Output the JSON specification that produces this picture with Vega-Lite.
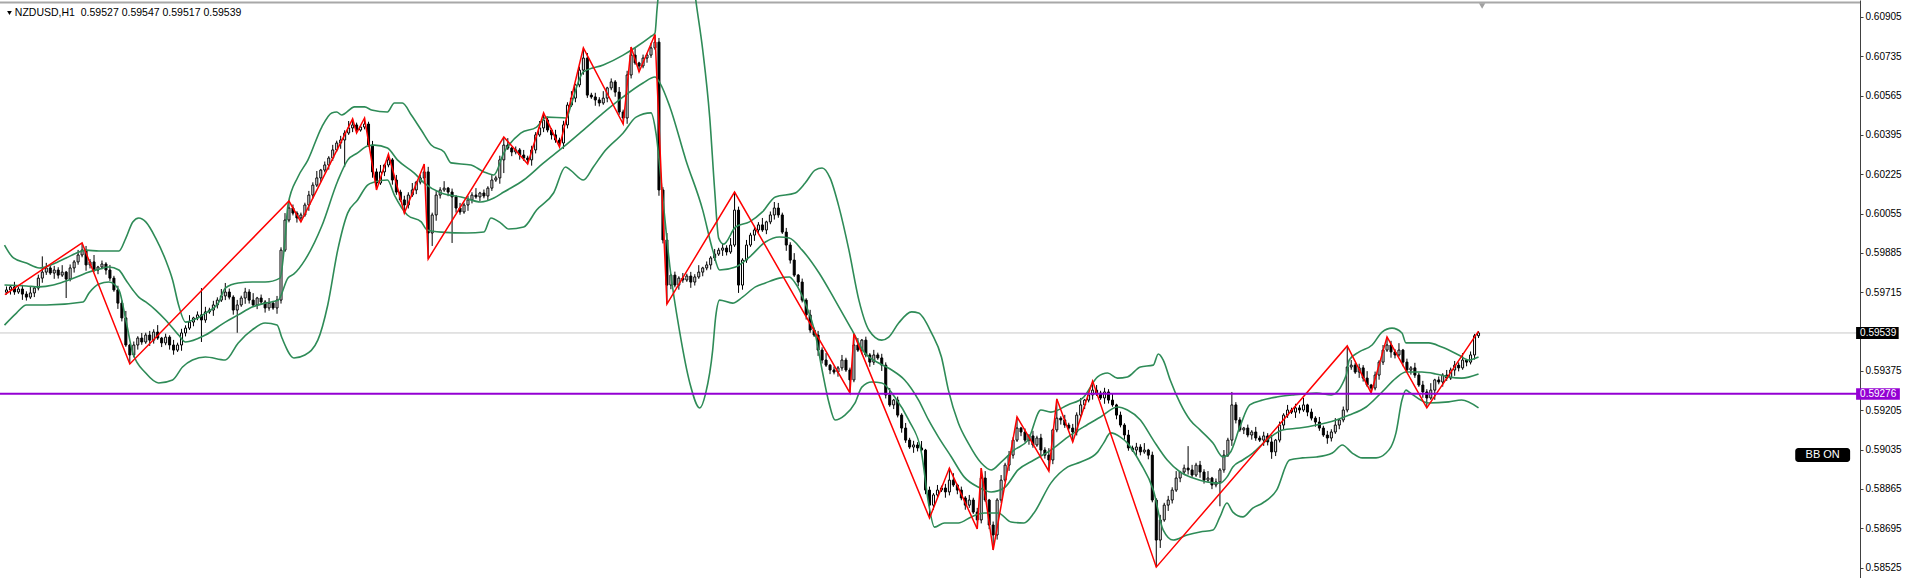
{
"$schema": "https://vega.github.io/schema/vega-lite/v6.json",
"width": 1860, "height": 578,
"autosize": {"type": "none"},
"padding": {"left": 0, "top": 0, "right": 50, "bottom": 0},
"background": "white",
"config": {"view": {"stroke": null}, "font": "Liberation Sans"},
"resolve": {"axis": {"y": "independent", "x": "independent"}},
"data": {"values": [{}]},
"datasets": {
"candles": [
{"i":0,"o":0.59715,"h":0.59740,"l":0.59705,"c":0.59725},
{"i":1,"o":0.59725,"h":0.59746,"l":0.59705,"c":0.59738},
{"i":2,"o":0.59738,"h":0.59760,"l":0.59704,"c":0.59716},
{"i":3,"o":0.59716,"h":0.59739,"l":0.59708,"c":0.59729},
{"i":4,"o":0.59729,"h":0.59747,"l":0.59682,"c":0.59707},
{"i":5,"o":0.59707,"h":0.59719,"l":0.59679,"c":0.59694},
{"i":6,"o":0.59694,"h":0.59742,"l":0.59686,"c":0.59712},
{"i":7,"o":0.59712,"h":0.59738,"l":0.59694,"c":0.59733},
{"i":8,"o":0.59733,"h":0.59791,"l":0.59723,"c":0.59776},
{"i":9,"o":0.59776,"h":0.59870,"l":0.59756,"c":0.59802},
{"i":10,"o":0.59802,"h":0.59842,"l":0.59790,"c":0.59820},
{"i":11,"o":0.59820,"h":0.59830,"l":0.59790,"c":0.59798},
{"i":12,"o":0.59798,"h":0.59829,"l":0.59773,"c":0.59811},
{"i":13,"o":0.59811,"h":0.59823,"l":0.59774,"c":0.59789},
{"i":14,"o":0.59789,"h":0.59832,"l":0.59781,"c":0.59802},
{"i":15,"o":0.59802,"h":0.59807,"l":0.59690,"c":0.59772},
{"i":16,"o":0.59772,"h":0.59835,"l":0.59762,"c":0.59820},
{"i":17,"o":0.59820,"h":0.59854,"l":0.59800,"c":0.59846},
{"i":18,"o":0.59846,"h":0.59898,"l":0.59834,"c":0.59876},
{"i":19,"o":0.59876,"h":0.59928,"l":0.59866,"c":0.59897},
{"i":20,"o":0.59897,"h":0.59915,"l":0.59808,"c":0.59833},
{"i":21,"o":0.59833,"h":0.59858,"l":0.59818,"c":0.59846},
{"i":22,"o":0.59846,"h":0.59876,"l":0.59803,"c":0.59811},
{"i":23,"o":0.59811,"h":0.59829,"l":0.59793,"c":0.59824},
{"i":24,"o":0.59824,"h":0.59852,"l":0.59814,"c":0.59837},
{"i":25,"o":0.59837,"h":0.59845,"l":0.59791,"c":0.59811},
{"i":26,"o":0.59811,"h":0.59833,"l":0.59764,"c":0.59776},
{"i":27,"o":0.59776,"h":0.59786,"l":0.59717,"c":0.59725},
{"i":28,"o":0.59725,"h":0.59743,"l":0.59643,"c":0.59668},
{"i":29,"o":0.59668,"h":0.59680,"l":0.59589,"c":0.59604},
{"i":30,"o":0.59604,"h":0.59634,"l":0.59479,"c":0.59487},
{"i":31,"o":0.59487,"h":0.59492,"l":0.59405,"c":0.59444},
{"i":32,"o":0.59444,"h":0.59502,"l":0.59434,"c":0.59487},
{"i":33,"o":0.59487,"h":0.59525,"l":0.59467,"c":0.59517},
{"i":34,"o":0.59517,"h":0.59539,"l":0.59488,"c":0.59500},
{"i":35,"o":0.59500,"h":0.59540,"l":0.59492,"c":0.59530},
{"i":36,"o":0.59530,"h":0.59548,"l":0.59483,"c":0.59508},
{"i":37,"o":0.59508,"h":0.59555,"l":0.59493,"c":0.59543},
{"i":38,"o":0.59543,"h":0.59573,"l":0.59509,"c":0.59517},
{"i":39,"o":0.59517,"h":0.59522,"l":0.59478,"c":0.59496},
{"i":40,"o":0.59496,"h":0.59536,"l":0.59486,"c":0.59521},
{"i":41,"o":0.59521,"h":0.59529,"l":0.59467,"c":0.59487},
{"i":42,"o":0.59487,"h":0.59509,"l":0.59445,"c":0.59465},
{"i":43,"o":0.59465,"h":0.59497,"l":0.59457,"c":0.59487},
{"i":44,"o":0.59487,"h":0.59557,"l":0.59462,"c":0.59539},
{"i":45,"o":0.59539,"h":0.59572,"l":0.59524,"c":0.59560},
{"i":46,"o":0.59560,"h":0.59616,"l":0.59552,"c":0.59586},
{"i":47,"o":0.59586,"h":0.59609,"l":0.59568,"c":0.59604},
{"i":48,"o":0.59604,"h":0.59632,"l":0.59594,"c":0.59617},
{"i":49,"o":0.59617,"h":0.59733,"l":0.59500,"c":0.59595},
{"i":50,"o":0.59595,"h":0.59652,"l":0.59583,"c":0.59630},
{"i":51,"o":0.59630,"h":0.59648,"l":0.59622,"c":0.59638},
{"i":52,"o":0.59638,"h":0.59678,"l":0.59613,"c":0.59660},
{"i":53,"o":0.59660,"h":0.59693,"l":0.59645,"c":0.59681},
{"i":54,"o":0.59681,"h":0.59729,"l":0.59673,"c":0.59699},
{"i":55,"o":0.59699,"h":0.59755,"l":0.59681,"c":0.59716},
{"i":56,"o":0.59716,"h":0.59731,"l":0.59684,"c":0.59694},
{"i":57,"o":0.59694,"h":0.59702,"l":0.59618,"c":0.59638},
{"i":58,"o":0.59638,"h":0.59682,"l":0.59540,"c":0.59660},
{"i":59,"o":0.59660,"h":0.59700,"l":0.59652,"c":0.59690},
{"i":60,"o":0.59690,"h":0.59734,"l":0.59665,"c":0.59716},
{"i":61,"o":0.59716,"h":0.59728,"l":0.59666,"c":0.59681},
{"i":62,"o":0.59681,"h":0.59711,"l":0.59652,"c":0.59660},
{"i":63,"o":0.59660,"h":0.59695,"l":0.59642,"c":0.59690},
{"i":64,"o":0.59690,"h":0.59705,"l":0.59663,"c":0.59673},
{"i":65,"o":0.59673,"h":0.59681,"l":0.59627,"c":0.59647},
{"i":66,"o":0.59647,"h":0.59690,"l":0.59635,"c":0.59668},
{"i":67,"o":0.59668,"h":0.59678,"l":0.59639,"c":0.59647},
{"i":68,"o":0.59647,"h":0.59699,"l":0.59622,"c":0.59681},
{"i":69,"o":0.59681,"h":0.59909,"l":0.59666,"c":0.59897},
{"i":70,"o":0.59897,"h":0.60057,"l":0.59889,"c":0.60027},
{"i":71,"o":0.60027,"h":0.60109,"l":0.60017,"c":0.60079},
{"i":72,"o":0.60079,"h":0.60094,"l":0.60047,"c":0.60057},
{"i":73,"o":0.60057,"h":0.60065,"l":0.60016,"c":0.60036},
{"i":74,"o":0.60036,"h":0.60059,"l":0.60019,"c":0.60049},
{"i":75,"o":0.60049,"h":0.60102,"l":0.60041,"c":0.60092},
{"i":76,"o":0.60092,"h":0.60153,"l":0.60067,"c":0.60135},
{"i":77,"o":0.60135,"h":0.60190,"l":0.60120,"c":0.60178},
{"i":78,"o":0.60178,"h":0.60239,"l":0.60170,"c":0.60209},
{"i":79,"o":0.60209,"h":0.60248,"l":0.60191,"c":0.60243},
{"i":80,"o":0.60243,"h":0.60280,"l":0.60233,"c":0.60265},
{"i":81,"o":0.60265,"h":0.60303,"l":0.60245,"c":0.60295},
{"i":82,"o":0.60295,"h":0.60352,"l":0.60283,"c":0.60330},
{"i":83,"o":0.60330,"h":0.60370,"l":0.60322,"c":0.60360},
{"i":84,"o":0.60360,"h":0.60391,"l":0.60335,"c":0.60373},
{"i":85,"o":0.60373,"h":0.60415,"l":0.60256,"c":0.60403},
{"i":86,"o":0.60403,"h":0.60455,"l":0.60395,"c":0.60425},
{"i":87,"o":0.60425,"h":0.60464,"l":0.60407,"c":0.60438},
{"i":88,"o":0.60438,"h":0.60448,"l":0.60403,"c":0.60416},
{"i":89,"o":0.60416,"h":0.60437,"l":0.60409,"c":0.60429},
{"i":90,"o":0.60429,"h":0.60468,"l":0.60419,"c":0.60442},
{"i":91,"o":0.60442,"h":0.60452,"l":0.60343,"c":0.60351},
{"i":92,"o":0.60351,"h":0.60369,"l":0.60210,"c":0.60235},
{"i":93,"o":0.60235,"h":0.60250,"l":0.60157,"c":0.60187},
{"i":94,"o":0.60187,"h":0.60265,"l":0.60179,"c":0.60235},
{"i":95,"o":0.60235,"h":0.60270,"l":0.60217,"c":0.60265},
{"i":96,"o":0.60265,"h":0.60312,"l":0.60255,"c":0.60287},
{"i":97,"o":0.60287,"h":0.60295,"l":0.60180,"c":0.60200},
{"i":98,"o":0.60200,"h":0.60222,"l":0.60136,"c":0.60148},
{"i":99,"o":0.60148,"h":0.60158,"l":0.60106,"c":0.60114},
{"i":100,"o":0.60114,"h":0.60132,"l":0.60057,"c":0.60092},
{"i":101,"o":0.60092,"h":0.60147,"l":0.60077,"c":0.60135},
{"i":102,"o":0.60135,"h":0.60187,"l":0.60127,"c":0.60157},
{"i":103,"o":0.60157,"h":0.60196,"l":0.60139,"c":0.60191},
{"i":104,"o":0.60191,"h":0.60224,"l":0.60181,"c":0.60209},
{"i":105,"o":0.60209,"h":0.60269,"l":0.60189,"c":0.60235},
{"i":106,"o":0.60235,"h":0.60257,"l":0.59859,"c":0.59971},
{"i":107,"o":0.59971,"h":0.60059,"l":0.59915,"c":0.60049},
{"i":108,"o":0.60049,"h":0.60153,"l":0.60024,"c":0.60135},
{"i":109,"o":0.60135,"h":0.60169,"l":0.60120,"c":0.60157},
{"i":110,"o":0.60157,"h":0.60195,"l":0.60149,"c":0.60165},
{"i":111,"o":0.60165,"h":0.60170,"l":0.60130,"c":0.60148},
{"i":112,"o":0.60148,"h":0.60163,"l":0.59928,"c":0.60127},
{"i":113,"o":0.60127,"h":0.60135,"l":0.60059,"c":0.60079},
{"i":114,"o":0.60079,"h":0.60101,"l":0.60050,"c":0.60062},
{"i":115,"o":0.60062,"h":0.60102,"l":0.60054,"c":0.60092},
{"i":116,"o":0.60092,"h":0.60132,"l":0.60067,"c":0.60114},
{"i":117,"o":0.60114,"h":0.60147,"l":0.60099,"c":0.60135},
{"i":118,"o":0.60135,"h":0.60165,"l":0.60119,"c":0.60127},
{"i":119,"o":0.60127,"h":0.60149,"l":0.60109,"c":0.60144},
{"i":120,"o":0.60144,"h":0.60159,"l":0.60121,"c":0.60131},
{"i":121,"o":0.60131,"h":0.60173,"l":0.60111,"c":0.60165},
{"i":122,"o":0.60165,"h":0.60222,"l":0.60153,"c":0.60200},
{"i":123,"o":0.60200,"h":0.60219,"l":0.60192,"c":0.60209},
{"i":124,"o":0.60209,"h":0.60305,"l":0.60184,"c":0.60287},
{"i":125,"o":0.60287,"h":0.60386,"l":0.60230,"c":0.60351},
{"i":126,"o":0.60351,"h":0.60381,"l":0.60330,"c":0.60338},
{"i":127,"o":0.60338,"h":0.60343,"l":0.60303,"c":0.60321},
{"i":128,"o":0.60321,"h":0.60345,"l":0.60311,"c":0.60330},
{"i":129,"o":0.60330,"h":0.60338,"l":0.60288,"c":0.60308},
{"i":130,"o":0.60308,"h":0.60330,"l":0.60283,"c":0.60295},
{"i":131,"o":0.60295,"h":0.60305,"l":0.60269,"c":0.60287},
{"i":132,"o":0.60287,"h":0.60348,"l":0.60262,"c":0.60330},
{"i":133,"o":0.60330,"h":0.60407,"l":0.60315,"c":0.60395},
{"i":134,"o":0.60395,"h":0.60455,"l":0.60387,"c":0.60425},
{"i":135,"o":0.60425,"h":0.60490,"l":0.60407,"c":0.60459},
{"i":136,"o":0.60459,"h":0.60474,"l":0.60406,"c":0.60416},
{"i":137,"o":0.60416,"h":0.60424,"l":0.60375,"c":0.60395},
{"i":138,"o":0.60395,"h":0.60417,"l":0.60361,"c":0.60373},
{"i":139,"o":0.60373,"h":0.60383,"l":0.60343,"c":0.60360},
{"i":140,"o":0.60360,"h":0.60456,"l":0.60335,"c":0.60438},
{"i":141,"o":0.60438,"h":0.60536,"l":0.60423,"c":0.60524},
{"i":142,"o":0.60524,"h":0.60584,"l":0.60516,"c":0.60554},
{"i":143,"o":0.60554,"h":0.60616,"l":0.60536,"c":0.60611},
{"i":144,"o":0.60611,"h":0.60690,"l":0.60601,"c":0.60675},
{"i":145,"o":0.60675,"h":0.60771,"l":0.60655,"c":0.60727},
{"i":146,"o":0.60727,"h":0.60749,"l":0.60555,"c":0.60567},
{"i":147,"o":0.60567,"h":0.60577,"l":0.60551,"c":0.60559},
{"i":148,"o":0.60559,"h":0.60577,"l":0.60521,"c":0.60546},
{"i":149,"o":0.60546,"h":0.60558,"l":0.60518,"c":0.60533},
{"i":150,"o":0.60533,"h":0.60584,"l":0.60525,"c":0.60554},
{"i":151,"o":0.60554,"h":0.60603,"l":0.60536,"c":0.60598},
{"i":152,"o":0.60598,"h":0.60639,"l":0.60588,"c":0.60624},
{"i":153,"o":0.60624,"h":0.60632,"l":0.60560,"c":0.60580},
{"i":154,"o":0.60580,"h":0.60602,"l":0.60482,"c":0.60494},
{"i":155,"o":0.60494,"h":0.60504,"l":0.60442,"c":0.60468},
{"i":156,"o":0.60468,"h":0.60672,"l":0.60443,"c":0.60654},
{"i":157,"o":0.60654,"h":0.60775,"l":0.60639,"c":0.60740},
{"i":158,"o":0.60740,"h":0.60770,"l":0.60698,"c":0.60706},
{"i":159,"o":0.60706,"h":0.60711,"l":0.60667,"c":0.60693},
{"i":160,"o":0.60693,"h":0.60742,"l":0.60683,"c":0.60727},
{"i":161,"o":0.60727,"h":0.60748,"l":0.60707,"c":0.60740},
{"i":162,"o":0.60740,"h":0.60793,"l":0.60728,"c":0.60771},
{"i":163,"o":0.60771,"h":0.60829,"l":0.60763,"c":0.60796},
{"i":164,"o":0.60796,"h":0.60814,"l":0.60132,"c":0.60157},
{"i":165,"o":0.60157,"h":0.60169,"l":0.59926,"c":0.59941},
{"i":166,"o":0.59941,"h":0.59971,"l":0.59664,"c":0.59746},
{"i":167,"o":0.59746,"h":0.59794,"l":0.59728,"c":0.59789},
{"i":168,"o":0.59789,"h":0.59804,"l":0.59736,"c":0.59746},
{"i":169,"o":0.59746,"h":0.59784,"l":0.59726,"c":0.59776},
{"i":170,"o":0.59776,"h":0.59798,"l":0.59756,"c":0.59768},
{"i":171,"o":0.59768,"h":0.59795,"l":0.59760,"c":0.59785},
{"i":172,"o":0.59785,"h":0.59803,"l":0.59734,"c":0.59759},
{"i":173,"o":0.59759,"h":0.59793,"l":0.59744,"c":0.59781},
{"i":174,"o":0.59781,"h":0.59832,"l":0.59773,"c":0.59802},
{"i":175,"o":0.59802,"h":0.59825,"l":0.59784,"c":0.59820},
{"i":176,"o":0.59820,"h":0.59848,"l":0.59810,"c":0.59833},
{"i":177,"o":0.59833,"h":0.59871,"l":0.59813,"c":0.59863},
{"i":178,"o":0.59863,"h":0.59902,"l":0.59851,"c":0.59880},
{"i":179,"o":0.59880,"h":0.59907,"l":0.59872,"c":0.59897},
{"i":180,"o":0.59897,"h":0.59924,"l":0.59872,"c":0.59906},
{"i":181,"o":0.59906,"h":0.59918,"l":0.59874,"c":0.59889},
{"i":182,"o":0.59889,"h":0.59949,"l":0.59881,"c":0.59919},
{"i":183,"o":0.59919,"h":0.60148,"l":0.59911,"c":0.60070},
{"i":184,"o":0.60070,"h":0.60085,"l":0.59712,"c":0.59746},
{"i":185,"o":0.59746,"h":0.59862,"l":0.59726,"c":0.59854},
{"i":186,"o":0.59854,"h":0.59941,"l":0.59842,"c":0.59919},
{"i":187,"o":0.59919,"h":0.59972,"l":0.59911,"c":0.59962},
{"i":188,"o":0.59962,"h":0.60002,"l":0.59937,"c":0.59984},
{"i":189,"o":0.59984,"h":0.60018,"l":0.59969,"c":0.60006},
{"i":190,"o":0.60006,"h":0.60036,"l":0.59976,"c":0.59984},
{"i":191,"o":0.59984,"h":0.60024,"l":0.59966,"c":0.60019},
{"i":192,"o":0.60019,"h":0.60064,"l":0.60009,"c":0.60049},
{"i":193,"o":0.60049,"h":0.60105,"l":0.60029,"c":0.60079},
{"i":194,"o":0.60079,"h":0.60101,"l":0.60037,"c":0.60049},
{"i":195,"o":0.60049,"h":0.60059,"l":0.59967,"c":0.59975},
{"i":196,"o":0.59975,"h":0.59993,"l":0.59894,"c":0.59919},
{"i":197,"o":0.59919,"h":0.59931,"l":0.59839,"c":0.59854},
{"i":198,"o":0.59854,"h":0.59884,"l":0.59781,"c":0.59789},
{"i":199,"o":0.59789,"h":0.59794,"l":0.59741,"c":0.59759},
{"i":200,"o":0.59759,"h":0.59774,"l":0.59671,"c":0.59681},
{"i":201,"o":0.59681,"h":0.59689,"l":0.59597,"c":0.59617},
{"i":202,"o":0.59617,"h":0.59639,"l":0.59540,"c":0.59552},
{"i":203,"o":0.59552,"h":0.59562,"l":0.59522,"c":0.59530},
{"i":204,"o":0.59530,"h":0.59548,"l":0.59440,"c":0.59465},
{"i":205,"o":0.59465,"h":0.59477,"l":0.59407,"c":0.59422},
{"i":206,"o":0.59422,"h":0.59452,"l":0.59392,"c":0.59400},
{"i":207,"o":0.59400,"h":0.59405,"l":0.59361,"c":0.59379},
{"i":208,"o":0.59379,"h":0.59394,"l":0.59360,"c":0.59370},
{"i":209,"o":0.59370,"h":0.59396,"l":0.59350,"c":0.59388},
{"i":210,"o":0.59388,"h":0.59444,"l":0.59376,"c":0.59422},
{"i":211,"o":0.59422,"h":0.59432,"l":0.59371,"c":0.59379},
{"i":212,"o":0.59379,"h":0.59389,"l":0.59280,"c":0.59336},
{"i":213,"o":0.59336,"h":0.59535,"l":0.59326,"c":0.59487},
{"i":214,"o":0.59487,"h":0.59517,"l":0.59457,"c":0.59465},
{"i":215,"o":0.59465,"h":0.59513,"l":0.59447,"c":0.59508},
{"i":216,"o":0.59508,"h":0.59523,"l":0.59434,"c":0.59444},
{"i":217,"o":0.59444,"h":0.59452,"l":0.59393,"c":0.59413},
{"i":218,"o":0.59413,"h":0.59466,"l":0.59401,"c":0.59444},
{"i":219,"o":0.59444,"h":0.59454,"l":0.59423,"c":0.59431},
{"i":220,"o":0.59431,"h":0.59449,"l":0.59375,"c":0.59400},
{"i":221,"o":0.59400,"h":0.59412,"l":0.59256,"c":0.59271},
{"i":222,"o":0.59271,"h":0.59301,"l":0.59220,"c":0.59228},
{"i":223,"o":0.59228,"h":0.59254,"l":0.59210,"c":0.59249},
{"i":224,"o":0.59249,"h":0.59264,"l":0.59174,"c":0.59184},
{"i":225,"o":0.59184,"h":0.59192,"l":0.59108,"c":0.59128},
{"i":226,"o":0.59128,"h":0.59150,"l":0.59064,"c":0.59076},
{"i":227,"o":0.59076,"h":0.59086,"l":0.59038,"c":0.59046},
{"i":228,"o":0.59046,"h":0.59073,"l":0.59021,"c":0.59055},
{"i":229,"o":0.59055,"h":0.59067,"l":0.59027,"c":0.59042},
{"i":230,"o":0.59042,"h":0.59072,"l":0.59025,"c":0.59033},
{"i":231,"o":0.59033,"h":0.59038,"l":0.58842,"c":0.58860},
{"i":232,"o":0.58860,"h":0.58875,"l":0.58739,"c":0.58795},
{"i":233,"o":0.58795,"h":0.58847,"l":0.58775,"c":0.58839},
{"i":234,"o":0.58839,"h":0.58882,"l":0.58827,"c":0.58860},
{"i":235,"o":0.58860,"h":0.58879,"l":0.58852,"c":0.58869},
{"i":236,"o":0.58869,"h":0.58887,"l":0.58827,"c":0.58852},
{"i":237,"o":0.58852,"h":0.58955,"l":0.58837,"c":0.58903},
{"i":238,"o":0.58903,"h":0.58933,"l":0.58874,"c":0.58882},
{"i":239,"o":0.58882,"h":0.58887,"l":0.58842,"c":0.58860},
{"i":240,"o":0.58860,"h":0.58875,"l":0.58816,"c":0.58826},
{"i":241,"o":0.58826,"h":0.58834,"l":0.58775,"c":0.58795},
{"i":242,"o":0.58795,"h":0.58839,"l":0.58783,"c":0.58817},
{"i":243,"o":0.58817,"h":0.58827,"l":0.58757,"c":0.58765},
{"i":244,"o":0.58765,"h":0.58783,"l":0.58692,"c":0.58731},
{"i":245,"o":0.58731,"h":0.58955,"l":0.58716,"c":0.58912},
{"i":246,"o":0.58912,"h":0.58942,"l":0.58809,"c":0.58817},
{"i":247,"o":0.58817,"h":0.58822,"l":0.58691,"c":0.58709},
{"i":248,"o":0.58709,"h":0.58724,"l":0.58601,"c":0.58666},
{"i":249,"o":0.58666,"h":0.58825,"l":0.58646,"c":0.58817},
{"i":250,"o":0.58817,"h":0.58925,"l":0.58805,"c":0.58903},
{"i":251,"o":0.58903,"h":0.58978,"l":0.58895,"c":0.58968},
{"i":252,"o":0.58968,"h":0.59029,"l":0.58943,"c":0.59011},
{"i":253,"o":0.59011,"h":0.59088,"l":0.58996,"c":0.59076},
{"i":254,"o":0.59076,"h":0.59176,"l":0.59068,"c":0.59128},
{"i":255,"o":0.59128,"h":0.59133,"l":0.59093,"c":0.59111},
{"i":256,"o":0.59111,"h":0.59126,"l":0.59066,"c":0.59076},
{"i":257,"o":0.59076,"h":0.59102,"l":0.59056,"c":0.59094},
{"i":258,"o":0.59094,"h":0.59116,"l":0.59043,"c":0.59055},
{"i":259,"o":0.59055,"h":0.59095,"l":0.59047,"c":0.59085},
{"i":260,"o":0.59085,"h":0.59103,"l":0.59008,"c":0.59033},
{"i":261,"o":0.59033,"h":0.59045,"l":0.58996,"c":0.59011},
{"i":262,"o":0.59011,"h":0.59041,"l":0.58942,"c":0.58990},
{"i":263,"o":0.58990,"h":0.59125,"l":0.58972,"c":0.59120},
{"i":264,"o":0.59120,"h":0.59254,"l":0.59110,"c":0.59171},
{"i":265,"o":0.59171,"h":0.59179,"l":0.59143,"c":0.59163},
{"i":266,"o":0.59163,"h":0.59185,"l":0.59129,"c":0.59141},
{"i":267,"o":0.59141,"h":0.59151,"l":0.59120,"c":0.59128},
{"i":268,"o":0.59128,"h":0.59146,"l":0.59068,"c":0.59111},
{"i":269,"o":0.59111,"h":0.59196,"l":0.59096,"c":0.59184},
{"i":270,"o":0.59184,"h":0.59258,"l":0.59176,"c":0.59228},
{"i":271,"o":0.59228,"h":0.59254,"l":0.59210,"c":0.59249},
{"i":272,"o":0.59249,"h":0.59286,"l":0.59239,"c":0.59271},
{"i":273,"o":0.59271,"h":0.59331,"l":0.59251,"c":0.59292},
{"i":274,"o":0.59292,"h":0.59314,"l":0.59267,"c":0.59279},
{"i":275,"o":0.59279,"h":0.59289,"l":0.59250,"c":0.59258},
{"i":276,"o":0.59258,"h":0.59302,"l":0.59233,"c":0.59284},
{"i":277,"o":0.59284,"h":0.59296,"l":0.59234,"c":0.59249},
{"i":278,"o":0.59249,"h":0.59279,"l":0.59220,"c":0.59228},
{"i":279,"o":0.59228,"h":0.59233,"l":0.59166,"c":0.59184},
{"i":280,"o":0.59184,"h":0.59199,"l":0.59131,"c":0.59141},
{"i":281,"o":0.59141,"h":0.59149,"l":0.59078,"c":0.59098},
{"i":282,"o":0.59098,"h":0.59120,"l":0.59030,"c":0.59042},
{"i":283,"o":0.59042,"h":0.59052,"l":0.59025,"c":0.59033},
{"i":284,"o":0.59033,"h":0.59064,"l":0.59008,"c":0.59046},
{"i":285,"o":0.59046,"h":0.59058,"l":0.59010,"c":0.59025},
{"i":286,"o":0.59025,"h":0.59063,"l":0.59017,"c":0.59033},
{"i":287,"o":0.59033,"h":0.59038,"l":0.58993,"c":0.59011},
{"i":288,"o":0.59011,"h":0.59026,"l":0.58807,"c":0.58817},
{"i":289,"o":0.58817,"h":0.58825,"l":0.58527,"c":0.58644},
{"i":290,"o":0.58644,"h":0.58753,"l":0.58610,"c":0.58731},
{"i":291,"o":0.58731,"h":0.58805,"l":0.58723,"c":0.58795},
{"i":292,"o":0.58795,"h":0.58835,"l":0.58770,"c":0.58817},
{"i":293,"o":0.58817,"h":0.58872,"l":0.58802,"c":0.58860},
{"i":294,"o":0.58860,"h":0.58942,"l":0.58852,"c":0.58912},
{"i":295,"o":0.58912,"h":0.58943,"l":0.58894,"c":0.58938},
{"i":296,"o":0.58938,"h":0.58970,"l":0.58928,"c":0.58955},
{"i":297,"o":0.58955,"h":0.59050,"l":0.58927,"c":0.58947},
{"i":298,"o":0.58947,"h":0.58969,"l":0.58913,"c":0.58925},
{"i":299,"o":0.58925,"h":0.58978,"l":0.58917,"c":0.58968},
{"i":300,"o":0.58968,"h":0.58986,"l":0.58913,"c":0.58938},
{"i":301,"o":0.58938,"h":0.58950,"l":0.58888,"c":0.58903},
{"i":302,"o":0.58903,"h":0.58942,"l":0.58895,"c":0.58912},
{"i":303,"o":0.58912,"h":0.58917,"l":0.58864,"c":0.58882},
{"i":304,"o":0.58882,"h":0.58910,"l":0.58872,"c":0.58895},
{"i":305,"o":0.58895,"h":0.58955,"l":0.58790,"c":0.58947},
{"i":306,"o":0.58947,"h":0.59033,"l":0.58935,"c":0.59011},
{"i":307,"o":0.59011,"h":0.59086,"l":0.59003,"c":0.59076},
{"i":308,"o":0.59076,"h":0.59284,"l":0.59051,"c":0.59228},
{"i":309,"o":0.59228,"h":0.59240,"l":0.59148,"c":0.59163},
{"i":310,"o":0.59163,"h":0.59175,"l":0.59112,"c":0.59120},
{"i":311,"o":0.59120,"h":0.59133,"l":0.59102,"c":0.59128},
{"i":312,"o":0.59128,"h":0.59143,"l":0.59088,"c":0.59098},
{"i":313,"o":0.59098,"h":0.59119,"l":0.59078,"c":0.59111},
{"i":314,"o":0.59111,"h":0.59133,"l":0.59073,"c":0.59085},
{"i":315,"o":0.59085,"h":0.59095,"l":0.59068,"c":0.59076},
{"i":316,"o":0.59076,"h":0.59112,"l":0.59051,"c":0.59094},
{"i":317,"o":0.59094,"h":0.59106,"l":0.59053,"c":0.59068},
{"i":318,"o":0.59068,"h":0.59098,"l":0.58995,"c":0.59025},
{"i":319,"o":0.59025,"h":0.59081,"l":0.59007,"c":0.59076},
{"i":320,"o":0.59076,"h":0.59156,"l":0.59066,"c":0.59141},
{"i":321,"o":0.59141,"h":0.59192,"l":0.59121,"c":0.59184},
{"i":322,"o":0.59184,"h":0.59228,"l":0.59172,"c":0.59206},
{"i":323,"o":0.59206,"h":0.59216,"l":0.59189,"c":0.59197},
{"i":324,"o":0.59197,"h":0.59233,"l":0.59172,"c":0.59215},
{"i":325,"o":0.59215,"h":0.59227,"l":0.59191,"c":0.59206},
{"i":326,"o":0.59206,"h":0.59258,"l":0.59198,"c":0.59228},
{"i":327,"o":0.59228,"h":0.59233,"l":0.59179,"c":0.59197},
{"i":328,"o":0.59197,"h":0.59212,"l":0.59161,"c":0.59171},
{"i":329,"o":0.59171,"h":0.59179,"l":0.59134,"c":0.59154},
{"i":330,"o":0.59154,"h":0.59176,"l":0.59116,"c":0.59128},
{"i":331,"o":0.59128,"h":0.59138,"l":0.59090,"c":0.59098},
{"i":332,"o":0.59098,"h":0.59116,"l":0.59060,"c":0.59085},
{"i":333,"o":0.59085,"h":0.59123,"l":0.59070,"c":0.59111},
{"i":334,"o":0.59111,"h":0.59171,"l":0.59103,"c":0.59141},
{"i":335,"o":0.59141,"h":0.59168,"l":0.59123,"c":0.59163},
{"i":336,"o":0.59163,"h":0.59221,"l":0.59153,"c":0.59206},
{"i":337,"o":0.59206,"h":0.59483,"l":0.59196,"c":0.59392},
{"i":338,"o":0.59392,"h":0.59422,"l":0.59380,"c":0.59400},
{"i":339,"o":0.59400,"h":0.59410,"l":0.59362,"c":0.59370},
{"i":340,"o":0.59370,"h":0.59406,"l":0.59345,"c":0.59388},
{"i":341,"o":0.59388,"h":0.59400,"l":0.59329,"c":0.59344},
{"i":342,"o":0.59344,"h":0.59374,"l":0.59306,"c":0.59314},
{"i":343,"o":0.59314,"h":0.59319,"l":0.59280,"c":0.59301},
{"i":344,"o":0.59301,"h":0.59372,"l":0.59291,"c":0.59357},
{"i":345,"o":0.59357,"h":0.59421,"l":0.59337,"c":0.59413},
{"i":346,"o":0.59413,"h":0.59487,"l":0.59401,"c":0.59465},
{"i":347,"o":0.59465,"h":0.59522,"l":0.59457,"c":0.59487},
{"i":348,"o":0.59487,"h":0.59505,"l":0.59432,"c":0.59457},
{"i":349,"o":0.59457,"h":0.59469,"l":0.59429,"c":0.59444},
{"i":350,"o":0.59444,"h":0.59495,"l":0.59436,"c":0.59465},
{"i":351,"o":0.59465,"h":0.59470,"l":0.59395,"c":0.59413},
{"i":352,"o":0.59413,"h":0.59428,"l":0.59369,"c":0.59379},
{"i":353,"o":0.59379,"h":0.59396,"l":0.59359,"c":0.59388},
{"i":354,"o":0.59388,"h":0.59410,"l":0.59345,"c":0.59357},
{"i":355,"o":0.59357,"h":0.59367,"l":0.59306,"c":0.59314},
{"i":356,"o":0.59314,"h":0.59332,"l":0.59259,"c":0.59284},
{"i":357,"o":0.59284,"h":0.59296,"l":0.59215,"c":0.59258},
{"i":358,"o":0.59258,"h":0.59322,"l":0.59250,"c":0.59292},
{"i":359,"o":0.59292,"h":0.59341,"l":0.59250,"c":0.59336},
{"i":360,"o":0.59336,"h":0.59351,"l":0.59317,"c":0.59327},
{"i":361,"o":0.59327,"h":0.59365,"l":0.59307,"c":0.59357},
{"i":362,"o":0.59357,"h":0.59379,"l":0.59332,"c":0.59344},
{"i":363,"o":0.59344,"h":0.59389,"l":0.59336,"c":0.59379},
{"i":364,"o":0.59379,"h":0.59418,"l":0.59354,"c":0.59400},
{"i":365,"o":0.59400,"h":0.59412,"l":0.59373,"c":0.59388},
{"i":366,"o":0.59388,"h":0.59452,"l":0.59380,"c":0.59422},
{"i":367,"o":0.59422,"h":0.59427,"l":0.59395,"c":0.59413},
{"i":368,"o":0.59413,"h":0.59459,"l":0.59403,"c":0.59444},
{"i":369,"o":0.59444,"h":0.59535,"l":0.59424,"c":0.59527},
{"i":370,"o":0.59527,"h":0.59547,"l":0.59517,"c":0.59539}
],
"bands": [
{"b":"u","i":-0.5,"v":0.59919},{"b":"u","i":1.75,"v":0.59863},{"b":"u","i":5,"v":0.59841},{"b":"u","i":8.25,"v":0.59820},{"b":"u","i":11.75,"v":0.59837},{"b":"u","i":15,"v":0.59863},{"b":"u","i":18.25,"v":0.59889},{"b":"u","i":20,"v":0.59897},{"b":"u","i":23.25,"v":0.59893},{"b":"u","i":25.75,"v":0.59893},{"b":"u","i":28.25,"v":0.59893},{"b":"u","i":30,"v":0.59949},{"b":"u","i":31.75,"v":0.60019},{"b":"u","i":33.25,"v":0.60036},{"b":"u","i":35,"v":0.60019},{"b":"u","i":37.5,"v":0.59949},{"b":"u","i":40,"v":0.59854},{"b":"u","i":41.75,"v":0.59768},{"b":"u","i":43.25,"v":0.59660},{"b":"u","i":45,"v":0.59586},{"b":"u","i":47.5,"v":0.59599},{"b":"u","i":50,"v":0.59625},{"b":"u","i":53.25,"v":0.59668},{"b":"u","i":55,"v":0.59733},{"b":"u","i":58.25,"v":0.59755},{"b":"u","i":61.75,"v":0.59759},{"b":"u","i":65,"v":0.59759},{"b":"u","i":68.75,"v":0.59776},{"b":"u","i":70,"v":0.59941},{"b":"u","i":70.75,"v":0.60092},{"b":"u","i":73.25,"v":0.60213},{"b":"u","i":75.75,"v":0.60286},{"b":"u","i":79.25,"v":0.60429},{"b":"u","i":81.75,"v":0.60490},{"b":"u","i":83,"v":0.60494},{"b":"u","i":84.25,"v":0.60481},{"b":"u","i":87.5,"v":0.60516},{"b":"u","i":90,"v":0.60516},{"b":"u","i":91.75,"v":0.60503},{"b":"u","i":95.75,"v":0.60494},{"b":"u","i":97.5,"v":0.60533},{"b":"u","i":99.5,"v":0.60533},{"b":"u","i":101.75,"v":0.60481},{"b":"u","i":104.25,"v":0.60416},{"b":"u","i":106.75,"v":0.60351},{"b":"u","i":110,"v":0.60321},{"b":"u","i":111.75,"v":0.60274},{"b":"u","i":116.75,"v":0.60265},{"b":"u","i":120,"v":0.60235},{"b":"u","i":122.5,"v":0.60222},{"b":"u","i":125,"v":0.60317},{"b":"u","i":129.25,"v":0.60403},{"b":"u","i":133.25,"v":0.60429},{"b":"u","i":135.75,"v":0.60472},{"b":"u","i":140.75,"v":0.60468},{"b":"u","i":141.75,"v":0.60516},{"b":"u","i":145,"v":0.60667},{"b":"u","i":150,"v":0.60697},{"b":"u","i":155,"v":0.60740},{"b":"u","i":158.25,"v":0.60775},{"b":"u","i":161.75,"v":0.60818},{"b":"u","i":163,"v":0.60835},{"b":"u","i":163.5,"v":0.60935},{"b":"u","i":164.5,"v":0.61108},{"b":"u","i":166,"v":0.61237},{"b":"u","i":168,"v":0.61302},{"b":"u","i":170,"v":0.61281},{"b":"u","i":172,"v":0.61151},{"b":"u","i":173.25,"v":0.60978},{"b":"u","i":175,"v":0.60762},{"b":"u","i":176.75,"v":0.60472},{"b":"u","i":178,"v":0.60157},{"b":"u","i":179,"v":0.59949},{"b":"u","i":180.25,"v":0.59923},{"b":"u","i":183.25,"v":0.59997},{"b":"u","i":186.75,"v":0.60019},{"b":"u","i":190,"v":0.60062},{"b":"u","i":193.25,"v":0.60127},{"b":"u","i":198.25,"v":0.60144},{"b":"u","i":200.75,"v":0.60187},{"b":"u","i":203.25,"v":0.60243},{"b":"u","i":205,"v":0.60252},{"b":"u","i":207,"v":0.60209},{"b":"u","i":209.25,"v":0.60083},{"b":"u","i":211.75,"v":0.59897},{"b":"u","i":214.25,"v":0.59681},{"b":"u","i":216.75,"v":0.59552},{"b":"u","i":220,"v":0.59508},{"b":"u","i":221.75,"v":0.59521},{"b":"u","i":224.25,"v":0.59582},{"b":"u","i":227.5,"v":0.59630},{"b":"u","i":229.25,"v":0.59625},{"b":"u","i":232.5,"v":0.59539},{"b":"u","i":235,"v":0.59435},{"b":"u","i":236.75,"v":0.59292},{"b":"u","i":239.25,"v":0.59150},{"b":"u","i":241.75,"v":0.59063},{"b":"u","i":245,"v":0.58977},{"b":"u","i":247.5,"v":0.58947},{"b":"u","i":250,"v":0.58981},{"b":"u","i":253.25,"v":0.59033},{"b":"u","i":256.75,"v":0.59076},{"b":"u","i":260,"v":0.59206},{"b":"u","i":262.5,"v":0.59197},{"b":"u","i":266.75,"v":0.59228},{"b":"u","i":270.75,"v":0.59262},{"b":"u","i":274.25,"v":0.59349},{"b":"u","i":276.75,"v":0.59366},{"b":"u","i":279.25,"v":0.59344},{"b":"u","i":281.75,"v":0.59349},{"b":"u","i":285,"v":0.59392},{"b":"u","i":288.25,"v":0.59400},{"b":"u","i":289.5,"v":0.59448},{"b":"u","i":290.75,"v":0.59422},{"b":"u","i":292.5,"v":0.59336},{"b":"u","i":295,"v":0.59236},{"b":"u","i":297.5,"v":0.59163},{"b":"u","i":300,"v":0.59120},{"b":"u","i":303.25,"v":0.59063},{"b":"u","i":305.75,"v":0.59003},{"b":"u","i":307.5,"v":0.59020},{"b":"u","i":310,"v":0.59133},{"b":"u","i":312.5,"v":0.59228},{"b":"u","i":315.75,"v":0.59249},{"b":"u","i":319.25,"v":0.59262},{"b":"u","i":323.25,"v":0.59271},{"b":"u","i":329.25,"v":0.59279},{"b":"u","i":333,"v":0.59271},{"b":"u","i":336.75,"v":0.59357},{"b":"u","i":337.5,"v":0.59422},{"b":"u","i":340,"v":0.59457},{"b":"u","i":343.25,"v":0.59487},{"b":"u","i":345.75,"v":0.59543},{"b":"u","i":348.25,"v":0.59560},{"b":"u","i":350.75,"v":0.59539},{"b":"u","i":351.75,"v":0.59496},{"b":"u","i":357.5,"v":0.59496},{"b":"u","i":360.75,"v":0.59478},{"b":"u","i":365,"v":0.59444},{"b":"u","i":367.5,"v":0.59422},{"b":"u","i":370,"v":0.59435},
{"b":"m","i":-0.5,"v":0.59746},{"b":"m","i":5,"v":0.59742},{"b":"m","i":8.25,"v":0.59738},{"b":"m","i":11.75,"v":0.59746},{"b":"m","i":15,"v":0.59764},{"b":"m","i":18.25,"v":0.59785},{"b":"m","i":20,"v":0.59798},{"b":"m","i":23.25,"v":0.59815},{"b":"m","i":25.75,"v":0.59824},{"b":"m","i":28.25,"v":0.59811},{"b":"m","i":30,"v":0.59768},{"b":"m","i":31.75,"v":0.59725},{"b":"m","i":33.25,"v":0.59694},{"b":"m","i":35,"v":0.59673},{"b":"m","i":37.5,"v":0.59638},{"b":"m","i":40,"v":0.59595},{"b":"m","i":43.25,"v":0.59530},{"b":"m","i":45,"v":0.59500},{"b":"m","i":50,"v":0.59530},{"b":"m","i":55,"v":0.59586},{"b":"m","i":58.25,"v":0.59617},{"b":"m","i":61.75,"v":0.59651},{"b":"m","i":65,"v":0.59668},{"b":"m","i":68.25,"v":0.59680},{"b":"m","i":70.75,"v":0.59777},{"b":"m","i":72.25,"v":0.59794},{"b":"m","i":75,"v":0.59854},{"b":"m","i":79.25,"v":0.60001},{"b":"m","i":83.25,"v":0.60196},{"b":"m","i":85.75,"v":0.60286},{"b":"m","i":88.25,"v":0.60317},{"b":"m","i":90.75,"v":0.60347},{"b":"m","i":92.5,"v":0.60351},{"b":"m","i":95.75,"v":0.60338},{"b":"m","i":98.25,"v":0.60287},{"b":"m","i":102.5,"v":0.60230},{"b":"m","i":105,"v":0.60187},{"b":"m","i":109.25,"v":0.60144},{"b":"m","i":114.25,"v":0.60127},{"b":"m","i":119.25,"v":0.60105},{"b":"m","i":122.5,"v":0.60122},{"b":"m","i":125,"v":0.60148},{"b":"m","i":130,"v":0.60200},{"b":"m","i":135,"v":0.60274},{"b":"m","i":140,"v":0.60343},{"b":"m","i":145,"v":0.60416},{"b":"m","i":150,"v":0.60490},{"b":"m","i":155,"v":0.60559},{"b":"m","i":160,"v":0.60619},{"b":"m","i":163,"v":0.60645},{"b":"m","i":164.25,"v":0.60619},{"b":"m","i":166.75,"v":0.60516},{"b":"m","i":170.75,"v":0.60287},{"b":"m","i":175,"v":0.60070},{"b":"m","i":177.5,"v":0.59897},{"b":"m","i":179.25,"v":0.59811},{"b":"m","i":183.25,"v":0.59824},{"b":"m","i":186.75,"v":0.59867},{"b":"m","i":190.75,"v":0.59932},{"b":"m","i":194.25,"v":0.59954},{"b":"m","i":196.75,"v":0.59949},{"b":"m","i":200,"v":0.59897},{"b":"m","i":204.25,"v":0.59798},{"b":"m","i":208.25,"v":0.59681},{"b":"m","i":212.5,"v":0.59552},{"b":"m","i":215.75,"v":0.59452},{"b":"m","i":219.25,"v":0.59409},{"b":"m","i":222.5,"v":0.59379},{"b":"m","i":225.75,"v":0.59336},{"b":"m","i":229.25,"v":0.59249},{"b":"m","i":231.75,"v":0.59163},{"b":"m","i":234.25,"v":0.59089},{"b":"m","i":237.5,"v":0.59003},{"b":"m","i":240.75,"v":0.58916},{"b":"m","i":244.25,"v":0.58873},{"b":"m","i":247.5,"v":0.58852},{"b":"m","i":250.75,"v":0.58869},{"b":"m","i":254.25,"v":0.58947},{"b":"m","i":258.25,"v":0.58990},{"b":"m","i":262.5,"v":0.59033},{"b":"m","i":266.75,"v":0.59089},{"b":"m","i":270.75,"v":0.59133},{"b":"m","i":275,"v":0.59176},{"b":"m","i":279.25,"v":0.59219},{"b":"m","i":281.75,"v":0.59206},{"b":"m","i":285,"v":0.59163},{"b":"m","i":288.25,"v":0.59076},{"b":"m","i":291.75,"v":0.58990},{"b":"m","i":295,"v":0.58938},{"b":"m","i":298.25,"v":0.58912},{"b":"m","i":301.75,"v":0.58895},{"b":"m","i":305,"v":0.58890},{"b":"m","i":306.75,"v":0.58916},{"b":"m","i":308.25,"v":0.58960},{"b":"m","i":310.75,"v":0.58990},{"b":"m","i":313.25,"v":0.59020},{"b":"m","i":316.75,"v":0.59076},{"b":"m","i":320.75,"v":0.59120},{"b":"m","i":325,"v":0.59128},{"b":"m","i":329.25,"v":0.59141},{"b":"m","i":334.25,"v":0.59163},{"b":"m","i":337.5,"v":0.59184},{"b":"m","i":341.75,"v":0.59219},{"b":"m","i":345.75,"v":0.59284},{"b":"m","i":349.25,"v":0.59344},{"b":"m","i":351.75,"v":0.59370},{"b":"m","i":355.75,"v":0.59370},{"b":"m","i":359.25,"v":0.59362},{"b":"m","i":362.5,"v":0.59349},{"b":"m","i":365.75,"v":0.59344},{"b":"m","i":370,"v":0.59362},
{"b":"l","i":-0.5,"v":0.59573},{"b":"l","i":2.5,"v":0.59625},{"b":"l","i":5,"v":0.59660},{"b":"l","i":10,"v":0.59660},{"b":"l","i":19.25,"v":0.59673},{"b":"l","i":20.75,"v":0.59712},{"b":"l","i":23.25,"v":0.59751},{"b":"l","i":25.75,"v":0.59759},{"b":"l","i":28.25,"v":0.59725},{"b":"l","i":30,"v":0.59595},{"b":"l","i":31.75,"v":0.59452},{"b":"l","i":35,"v":0.59366},{"b":"l","i":38.25,"v":0.59323},{"b":"l","i":41.75,"v":0.59336},{"b":"l","i":44.25,"v":0.59392},{"b":"l","i":46.75,"v":0.59422},{"b":"l","i":50,"v":0.59435},{"b":"l","i":55,"v":0.59422},{"b":"l","i":58.25,"v":0.59496},{"b":"l","i":61.75,"v":0.59552},{"b":"l","i":65,"v":0.59582},{"b":"l","i":68,"v":0.59573},{"b":"l","i":69.25,"v":0.59517},{"b":"l","i":72.25,"v":0.59431},{"b":"l","i":75,"v":0.59444},{"b":"l","i":78.25,"v":0.59508},{"b":"l","i":80.75,"v":0.59660},{"b":"l","i":83.25,"v":0.59897},{"b":"l","i":85.75,"v":0.60057},{"b":"l","i":88.25,"v":0.60114},{"b":"l","i":90.75,"v":0.60178},{"b":"l","i":92.5,"v":0.60191},{"b":"l","i":95.75,"v":0.60200},{"b":"l","i":97.5,"v":0.60135},{"b":"l","i":100.75,"v":0.60049},{"b":"l","i":104.25,"v":0.60019},{"b":"l","i":105.75,"v":0.59984},{"b":"l","i":109.25,"v":0.59975},{"b":"l","i":115.75,"v":0.59971},{"b":"l","i":120,"v":0.59975},{"b":"l","i":121.75,"v":0.60036},{"b":"l","i":124.25,"v":0.60014},{"b":"l","i":126.25,"v":0.59988},{"b":"l","i":130,"v":0.59997},{"b":"l","i":133.25,"v":0.60070},{"b":"l","i":137.5,"v":0.60144},{"b":"l","i":140.5,"v":0.60256},{"b":"l","i":141.75,"v":0.60243},{"b":"l","i":145,"v":0.60200},{"b":"l","i":147.5,"v":0.60256},{"b":"l","i":150,"v":0.60317},{"b":"l","i":155,"v":0.60403},{"b":"l","i":158.25,"v":0.60472},{"b":"l","i":162,"v":0.60490},{"b":"l","i":163.25,"v":0.60403},{"b":"l","i":165,"v":0.60114},{"b":"l","i":166.75,"v":0.59824},{"b":"l","i":169.25,"v":0.59539},{"b":"l","i":171.75,"v":0.59323},{"b":"l","i":174.25,"v":0.59215},{"b":"l","i":175.75,"v":0.59279},{"b":"l","i":177.5,"v":0.59465},{"b":"l","i":178.25,"v":0.59608},{"b":"l","i":179.25,"v":0.59681},{"b":"l","i":182.5,"v":0.59668},{"b":"l","i":185,"v":0.59694},{"b":"l","i":188.25,"v":0.59738},{"b":"l","i":190.75,"v":0.59755},{"b":"l","i":194.25,"v":0.59776},{"b":"l","i":196.75,"v":0.59781},{"b":"l","i":198.25,"v":0.59755},{"b":"l","i":200.75,"v":0.59668},{"b":"l","i":203.25,"v":0.59539},{"b":"l","i":205,"v":0.59379},{"b":"l","i":206.75,"v":0.59236},{"b":"l","i":208.25,"v":0.59163},{"b":"l","i":210.75,"v":0.59184},{"b":"l","i":213.25,"v":0.59236},{"b":"l","i":215,"v":0.59305},{"b":"l","i":217.5,"v":0.59327},{"b":"l","i":220,"v":0.59323},{"b":"l","i":223.25,"v":0.59262},{"b":"l","i":226.75,"v":0.59163},{"b":"l","i":230,"v":0.59020},{"b":"l","i":231.75,"v":0.58804},{"b":"l","i":233.25,"v":0.58700},{"b":"l","i":235.75,"v":0.58718},{"b":"l","i":239.25,"v":0.58718},{"b":"l","i":242.5,"v":0.58744},{"b":"l","i":245.75,"v":0.58761},{"b":"l","i":249.25,"v":0.58761},{"b":"l","i":252.5,"v":0.58722},{"b":"l","i":255.75,"v":0.58718},{"b":"l","i":258.25,"v":0.58761},{"b":"l","i":262.5,"v":0.58890},{"b":"l","i":266.75,"v":0.58960},{"b":"l","i":270,"v":0.58981},{"b":"l","i":274.25,"v":0.59024},{"b":"l","i":275.75,"v":0.59063},{"b":"l","i":277.5,"v":0.59107},{"b":"l","i":280,"v":0.59089},{"b":"l","i":281.75,"v":0.59063},{"b":"l","i":285,"v":0.58977},{"b":"l","i":288.25,"v":0.58860},{"b":"l","i":290.75,"v":0.58687},{"b":"l","i":293.25,"v":0.58644},{"b":"l","i":296.75,"v":0.58666},{"b":"l","i":300,"v":0.58679},{"b":"l","i":303.25,"v":0.58687},{"b":"l","i":305,"v":0.58744},{"b":"l","i":306.75,"v":0.58804},{"b":"l","i":308.25,"v":0.58765},{"b":"l","i":310.75,"v":0.58744},{"b":"l","i":313.25,"v":0.58782},{"b":"l","i":315.75,"v":0.58804},{"b":"l","i":319.25,"v":0.58860},{"b":"l","i":322.5,"v":0.58990},{"b":"l","i":325.75,"v":0.58999},{"b":"l","i":329.25,"v":0.59003},{"b":"l","i":333.25,"v":0.59020},{"b":"l","i":335.75,"v":0.59055},{"b":"l","i":338.25,"v":0.59020},{"b":"l","i":340.75,"v":0.58999},{"b":"l","i":344.25,"v":0.58999},{"b":"l","i":346.75,"v":0.59020},{"b":"l","i":349.25,"v":0.59107},{"b":"l","i":350.75,"v":0.59249},{"b":"l","i":351.75,"v":0.59292},{"b":"l","i":352.5,"v":0.59284},{"b":"l","i":357.5,"v":0.59236},{"b":"l","i":362.5,"v":0.59241},{"b":"l","i":365.75,"v":0.59249},{"b":"l","i":370,"v":0.59215}
],
"zz": [
{"i":-0.4,"v":0.59705},{"i":19,"v":0.59928},{"i":31,"v":0.59405},{"i":71,"v":0.60109},{"i":74,"v":0.60019},{"i":87,"v":0.60464},{"i":88,"v":0.60403},{"i":90,"v":0.60468},{"i":93,"v":0.60157},{"i":96,"v":0.60312},{"i":100,"v":0.60057},{"i":105,"v":0.60269},{"i":106,"v":0.59859},{"i":125,"v":0.60386},{"i":131,"v":0.60269},{"i":135,"v":0.60490},{"i":139,"v":0.60343},{"i":145,"v":0.60771},{"i":155,"v":0.60442},{"i":157,"v":0.60775},{"i":159,"v":0.60667},{"i":163,"v":0.60829},{"i":166,"v":0.59664},{"i":183,"v":0.60148},{"i":212,"v":0.59280},{"i":213,"v":0.59535},{"i":232,"v":0.58739},{"i":237,"v":0.58955},{"i":244,"v":0.58692},{"i":245,"v":0.58955},{"i":248,"v":0.58601},{"i":254,"v":0.59176},{"i":262,"v":0.58942},{"i":264,"v":0.59254},{"i":268,"v":0.59068},{"i":273,"v":0.59331},{"i":289,"v":0.58527},{"i":337,"v":0.59483},{"i":343,"v":0.59280},{"i":347,"v":0.59522},{"i":357,"v":0.59215},{"i":370,"v":0.59547}
]
},
"layer": [
{"mark": {"type": "rule", "color": "#c8c8c8", "strokeWidth": 1},
 "encoding": {"y": {"datum": 0.59539, "type": "quantitative", "scale": {"domain": [0.5848, 0.60978], "nice": false, "zero": false},
   "axis": {"orient": "right", "values": [0.60905,0.60735,0.60565,0.60395,0.60225,0.60055,0.59885,0.59715,0.59375,0.59205,0.59035,0.58865,0.58695,0.58525], "format": ".5f", "labelFont": "Liberation Sans", "labelFontSize": 10, "labelColor": "#000000", "tickColor": "#404040", "tickSize": 3, "domainColor": "#404040", "domainWidth": 1, "labelPadding": 2, "grid": false, "title": null, "labelOverlap": false, "labelFlush": false, "labelBound": false}}}},
{"mark": {"type": "rule", "color": "#a8a8a8", "strokeWidth": 2},
 "encoding": {"y": {"datum": 0.60967, "type": "quantitative", "scale": {"domain": [0.5848, 0.60978], "nice": false, "zero": false}, "axis": null}}},
{"data": {"name": "candles"},
 "mark": {"type": "rule", "color": "#000000", "strokeWidth": 1},
 "encoding": {"x": {"field": "i", "type": "quantitative", "scale": {"domain": [-0.375, 464.625], "nice": false, "zero": false}, "axis": null},
   "y": {"field": "l", "type": "quantitative", "scale": {"domain": [0.5848, 0.60978], "nice": false, "zero": false}, "axis": null},
   "y2": {"field": "h"}}},
{"data": {"name": "candles"},
 "mark": {"type": "bar", "width": 2, "orient": "vertical", "stroke": "#000000", "strokeWidth": 1},
 "encoding": {"x": {"field": "i", "type": "quantitative", "scale": {"domain": [-0.375, 464.625], "nice": false, "zero": false}, "axis": null},
   "y": {"field": "o", "type": "quantitative", "scale": {"domain": [0.5848, 0.60978], "nice": false, "zero": false}, "axis": null},
   "y2": {"field": "c"},
   "fill": {"condition": {"test": "datum.c >= datum.o", "value": "#ffffff"}, "value": "#000000"}}},
{"data": {"name": "bands"},
 "mark": {"type": "line", "color": "#2e8b57", "strokeWidth": 1.6, "interpolate": "monotone", "clip": true},
 "encoding": {"x": {"field": "i", "type": "quantitative", "scale": {"domain": [-0.375, 464.625], "nice": false, "zero": false}, "axis": null},
   "y": {"field": "v", "type": "quantitative", "scale": {"domain": [0.5848, 0.60978], "nice": false, "zero": false}, "axis": null},
   "detail": {"field": "b", "type": "nominal"}}},
{"data": {"name": "zz"},
 "mark": {"type": "line", "color": "#ff0000", "strokeWidth": 1.5, "clip": true},
 "encoding": {"x": {"field": "i", "type": "quantitative", "scale": {"domain": [-0.375, 464.625], "nice": false, "zero": false}, "axis": null},
   "y": {"field": "v", "type": "quantitative", "scale": {"domain": [0.5848, 0.60978], "nice": false, "zero": false}, "axis": null}}},
{"mark": {"type": "rule", "color": "#9400d3", "strokeWidth": 2},
 "encoding": {"y": {"datum": 0.59276, "type": "quantitative", "scale": {"domain": [0.5848, 0.60978], "nice": false, "zero": false}, "axis": null}}},
{"mark": {"type": "rect", "color": "#000000", "clip": false},
 "encoding": {"x": {"datum": 464.9, "type": "quantitative", "scale": {"domain": [-0.375, 464.625], "nice": false, "zero": false}, "axis": null}, "x2": {"datum": 475.6},
   "y": {"datum": 0.59565, "type": "quantitative", "scale": {"domain": [0.5848, 0.60978], "nice": false, "zero": false}, "axis": null}, "y2": {"datum": 0.59513}}},
{"mark": {"type": "text", "color": "#ffffff", "align": "left", "baseline": "middle", "fontSize": 10, "font": "Liberation Sans", "clip": false},
 "encoding": {"x": {"datum": 465.9, "type": "quantitative", "scale": {"domain": [-0.375, 464.625], "nice": false, "zero": false}, "axis": null},
   "y": {"datum": 0.59539, "type": "quantitative", "scale": {"domain": [0.5848, 0.60978], "nice": false, "zero": false}, "axis": null},
   "text": {"value": "0.59539"}}},
{"mark": {"type": "rect", "color": "#9400d3", "clip": false},
 "encoding": {"x": {"datum": 464.9, "type": "quantitative", "scale": {"domain": [-0.375, 464.625], "nice": false, "zero": false}, "axis": null}, "x2": {"datum": 475.9},
   "y": {"datum": 0.59300, "type": "quantitative", "scale": {"domain": [0.5848, 0.60978], "nice": false, "zero": false}, "axis": null}, "y2": {"datum": 0.59250}}},
{"mark": {"type": "text", "color": "#ffffff", "align": "left", "baseline": "middle", "fontSize": 10, "font": "Liberation Sans", "clip": false},
 "encoding": {"x": {"datum": 465.9, "type": "quantitative", "scale": {"domain": [-0.375, 464.625], "nice": false, "zero": false}, "axis": null},
   "y": {"datum": 0.59276, "type": "quantitative", "scale": {"domain": [0.5848, 0.60978], "nice": false, "zero": false}, "axis": null},
   "text": {"value": "0.59276"}}},
{"mark": {"type": "rect", "color": "#000000", "cornerRadius": 3},
 "encoding": {"x": {"datum": 449.6, "type": "quantitative", "scale": {"domain": [-0.375, 464.625], "nice": false, "zero": false}, "axis": null}, "x2": {"datum": 463.4},
   "y": {"datum": 0.59042, "type": "quantitative", "scale": {"domain": [0.5848, 0.60978], "nice": false, "zero": false}, "axis": null}, "y2": {"datum": 0.58981}}},
{"mark": {"type": "text", "color": "#ffffff", "align": "center", "baseline": "middle", "fontSize": 11, "font": "Liberation Sans"},
 "encoding": {"x": {"datum": 456.5, "type": "quantitative", "scale": {"domain": [-0.375, 464.625], "nice": false, "zero": false}, "axis": null},
   "y": {"datum": 0.59012, "type": "quantitative", "scale": {"domain": [0.5848, 0.60978], "nice": false, "zero": false}, "axis": null},
   "text": {"value": "BB ON"}}},
{"mark": {"type": "text", "color": "#000000", "align": "left", "baseline": "middle", "fontSize": 10.5, "font": "Liberation Sans"},
 "encoding": {"x": {"datum": 2.1, "type": "quantitative", "scale": {"domain": [-0.375, 464.625], "nice": false, "zero": false}, "axis": null},
   "y": {"datum": 0.60921, "type": "quantitative", "scale": {"domain": [0.5848, 0.60978], "nice": false, "zero": false}, "axis": null},
   "text": {"value": "NZDUSD,H1\u00a0\u00a00.59527 0.59547 0.59517 0.59539"}}},
{"mark": {"type": "point", "shape": "triangle-down", "filled": true, "color": "#000000", "size": 22, "opacity": 1},
 "encoding": {"x": {"datum": 0.75, "type": "quantitative", "scale": {"domain": [-0.375, 464.625], "nice": false, "zero": false}, "axis": null},
   "y": {"datum": 0.60922, "type": "quantitative", "scale": {"domain": [0.5848, 0.60978], "nice": false, "zero": false}, "axis": null}}},
{"mark": {"type": "point", "shape": "triangle-down", "filled": true, "color": "#a0a0a0", "size": 40, "opacity": 1},
 "encoding": {"x": {"datum": 370.9, "type": "quantitative", "scale": {"domain": [-0.375, 464.625], "nice": false, "zero": false}, "axis": null},
   "y": {"datum": 0.60952, "type": "quantitative", "scale": {"domain": [0.5848, 0.60978], "nice": false, "zero": false}, "axis": null}}}
]
}
